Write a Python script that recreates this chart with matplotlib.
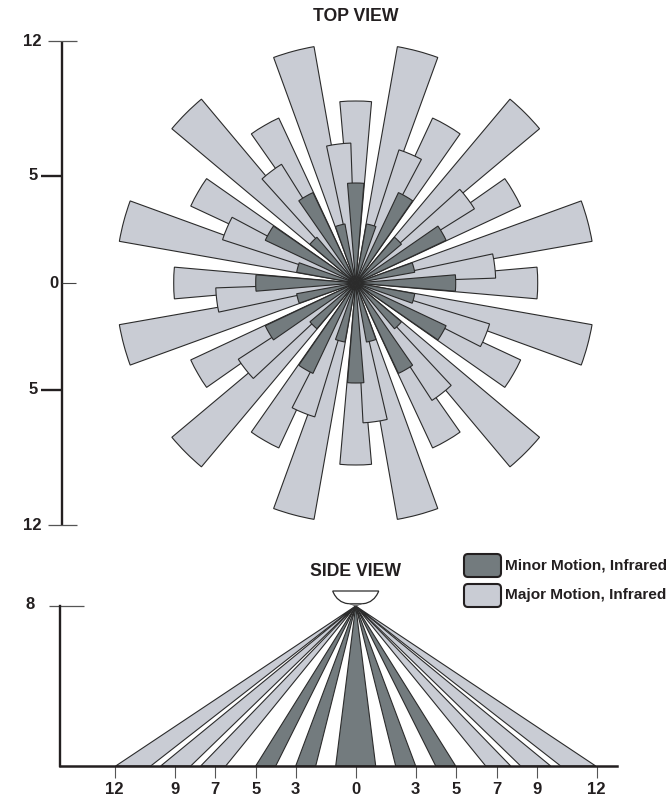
import matplotlib
matplotlib.use('Agg')
import matplotlib.pyplot as plt
from matplotlib.patches import Wedge, Polygon, PathPatch, FancyBboxPatch
from matplotlib.path import Path

plt.rcParams['font.family'] = ['Liberation Sans', 'DejaVu Sans']
plt.rcParams['font.weight'] = 'bold'

W, H = 670, 799
PX_PER_FT = 20.0
MAJOR = '#c9ccd4'
MINOR = '#737b7e'
EDGE = '#2b2b2b'
TEXT = '#231f20'

# top view : (range in feet, beam centres in degrees clockwise from north)
long_range = 12
long_angles = [15, 45, 75, 105, 135, 165, 195, 225, 255, 285, 315, 345]
mid_range = 9.1
mid_angles = [0, 30, 60, 90, 120, 150, 180, 210, 240, 270, 300, 330]
inner_range = 7
inner_angles = [23, 53, 83, 112, 142, 172, 202, 232, 263, 293, 323, 353]
minor_far_range = 5
minor_far_angles = [0, 30, 60, 90, 120, 150, 180, 210, 240, 270, 300, 330]
minor_near_range = 3
minor_near_angles = [15, 45, 75, 105, 135, 165, 195, 225, 255, 285, 315, 345]
beam_width = 10
minor_width = 9.4

# axis of the top view
top_tick_pos = [12.1, 5.35, 0, -5.35, -12.1]
top_tick_labels = ['12', '5', '0', '5', '12']

# side view : where each beam lands on the floor, feet from the sensor
side_minor = [(-5, -4), (-3, -2), (-1, 1), (2, 3), (4, 5)]
side_major = [(-12, -10.25), (-9.75, -8.25), (-7.75, -6.5),
              (6.5, 7.75), (8.25, 9.75), (10.25, 12)]
mount_height = 8
side_ticks = [-12.05, -9.05, -7.05, -5, -3, 0, 3, 5, 7.05, 9.05, 12.05]
side_tick_labels = ['12', '9', '7', '5', '3', '0', '3', '5', '7', '9', '12']


def add_ax(fig, x0, y0, x1, y1):
    # pixel box, y counted from the top of the picture
    return fig.add_axes([x0 / W, 1 - y1 / H, (x1 - x0) / W, (y1 - y0) / H])


def draw_wedges(ax, radius, angles, width, color):
    for a in angles:
        c = 90 - a
        ax.add_patch(Wedge((0, 0), radius, c - width / 2, c + width / 2,
                           facecolor=color, edgecolor=EDGE, linewidth=0.8))


fig = plt.figure(figsize=(W / 100, H / 100), dpi=100)

# ---- top view
cx, cy = 355.7, 283.0
split = 545
ax = add_ax(fig, 0, 0, W, split)
ax.set_xlim(-cx / PX_PER_FT, (W - cx) / PX_PER_FT)
ax.set_ylim(-(split - cy) / PX_PER_FT, cy / PX_PER_FT)
ax.axis('off')

draw_wedges(ax, long_range, long_angles, beam_width, MAJOR)
draw_wedges(ax, mid_range, mid_angles, beam_width, MAJOR)
draw_wedges(ax, inner_range, inner_angles, beam_width, MAJOR)
draw_wedges(ax, minor_far_range, minor_far_angles, minor_width, MINOR)
draw_wedges(ax, minor_near_range, minor_near_angles, minor_width, MINOR)

axis_x = (61.7 - cx) / PX_PER_FT
ax.plot([axis_x, axis_x], [top_tick_pos[-1], top_tick_pos[0]],
        color=TEXT, lw=1.7, solid_capstyle='butt')
for pos, lab in zip(top_tick_pos, top_tick_labels):
    if lab == '5':
        x0, x1, lw, col, lx = 41, 62, 1.7, TEXT, 37.5
    elif lab == '0':
        x0, x1, lw, col, lx = 62, 76, 0.8, '#444444', 58
    else:
        x0, x1, lw, col, lx = 48, 76.5, 0.9, '#555555', 41
    ax.plot([(x0 - cx) / PX_PER_FT, (x1 - cx) / PX_PER_FT], [pos, pos],
            color=col, lw=lw, solid_capstyle='butt')
    ax.text((lx - cx) / PX_PER_FT, pos, lab, ha='right', va='center',
            fontsize=12, color=TEXT)

ax.text(0, (cy - 16.5) / PX_PER_FT, 'TOP VIEW', ha='center', va='center',
        fontsize=12.7, color=TEXT)

# ---- side view
base_y = 766.0
ax2 = add_ax(fig, 0, split, W, H)
ax2.set_xlim(-cx / PX_PER_FT, (W - cx) / PX_PER_FT)
ax2.set_ylim(-(H - base_y) / PX_PER_FT, (base_y - split) / PX_PER_FT)
ax2.patch.set_alpha(0)

apex = (0, mount_height)
for (a, b) in side_minor:
    ax2.add_patch(Polygon([apex, (a, 0), (b, 0)], closed=True, facecolor=MINOR,
                          edgecolor=EDGE, linewidth=0.8))
for (a, b) in side_major:
    ax2.add_patch(Polygon([apex, (a, 0), (b, 0)], closed=True, facecolor=MAJOR,
                          edgecolor=EDGE, linewidth=0.8))

# sensor housing
sensor = Path([(-1.15, 8.75), (1.15, 8.75), (1.0, 8.35), (0.7, 8.15), (0.4, 8.12),
               (-0.4, 8.12), (-0.7, 8.15), (-1.0, 8.35), (-1.15, 8.75), (-1.15, 8.75)],
              [Path.MOVETO, Path.LINETO, Path.CURVE4, Path.CURVE4, Path.CURVE4,
               Path.LINETO, Path.CURVE4, Path.CURVE4, Path.CURVE4, Path.CLOSEPOLY])
ax2.add_patch(PathPatch(sensor, facecolor='white', edgecolor=EDGE, linewidth=0.9))
ax2.add_patch(Polygon([(-0.35, 8.12), (0.35, 8.12), (0, 8.0)], closed=True,
                      facecolor='#888888', edgecolor='#555555', linewidth=0.5))

for s in ['top', 'right']:
    ax2.spines[s].set_visible(False)
ax2.spines['bottom'].set_position(('data', 0))
ax2.spines['bottom'].set_bounds((60 - cx) / PX_PER_FT, (617 - cx) / PX_PER_FT)
ax2.spines['bottom'].set_linewidth(1.8)
ax2.spines['bottom'].set_color(TEXT)
ax2.spines['left'].set_position(('data', (60 - cx) / PX_PER_FT))
ax2.spines['left'].set_bounds(0, mount_height)
ax2.spines['left'].set_linewidth(1.7)
ax2.spines['left'].set_color(TEXT)
ax2.set_xticks(side_ticks, side_tick_labels)
ax2.tick_params(axis='x', length=8.6, width=0.8, color='#555555', pad=3,
                labelsize=12, labelcolor=TEXT)
ax2.set_yticks([])
ax2.plot([(49 - cx) / PX_PER_FT, (84 - cx) / PX_PER_FT], [mount_height, mount_height],
         color='#555555', lw=0.9, solid_capstyle='butt')
ax2.text((35 - cx) / PX_PER_FT, mount_height + 0.08, '8', ha='right', va='center',
         fontsize=12, color=TEXT)
ax2.text(0, (base_y - 571.5) / PX_PER_FT, 'SIDE VIEW', ha='center', va='center',
         fontsize=12.7, color=TEXT)

# ---- legend, in picture pixels
lg = add_ax(fig, 0, 0, W, H)
lg.set_xlim(0, W)
lg.set_ylim(H, 0)
lg.axis('off')
legend_labels = ['Minor Motion, Infrared', 'Major Motion, Infrared']
legend_colors = [MINOR, MAJOR]
for top, lab, col in zip([554, 584], legend_labels, legend_colors):
    lg.add_patch(FancyBboxPatch((467, top + 3), 31, 17,
                                boxstyle='round,pad=3,rounding_size=4',
                                facecolor=col, edgecolor=TEXT, linewidth=1.5))
    lg.text(505, top + 11.5, lab, ha='left', va='center', fontsize=11.1, color=TEXT)

fig.savefig('out.png', dpi=100)
